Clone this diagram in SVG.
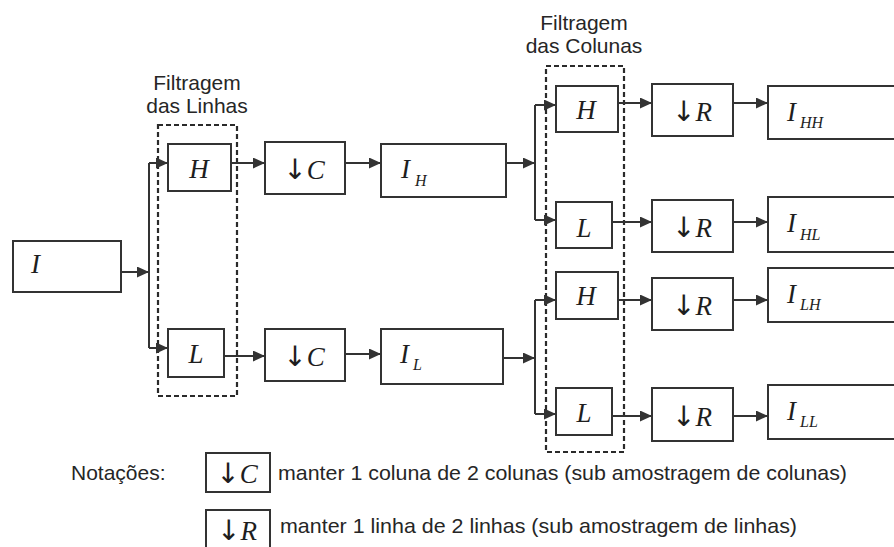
<svg xmlns="http://www.w3.org/2000/svg" width="894" height="547" viewBox="0 0 894 547">
  <style>
    .box { fill: #ffffff; stroke: #333333; stroke-width: 2; }
    .group { fill: none; stroke: #2a2a2a; stroke-width: 2.2; stroke-dasharray: 5 3; }
    .wire { fill: none; stroke: #333333; stroke-width: 2; }
    .arrow { fill: none; stroke: #333333; stroke-width: 2; marker-end: url(#head); }
    .m { font-family: "Liberation Serif", "Times New Roman", serif; font-style: italic; font-size: 27px; fill: #1e1e1e; }
    .op { font-family: "Liberation Serif", "Times New Roman", serif; font-size: 27px; fill: #1e1e1e; text-anchor: middle; }
    .op .v { font-style: italic; }
    .op .dn { font-family: "DejaVu Sans", sans-serif; font-size: 28px; }
    .sub { font-size: 16px; }
    .lbl { font-family: "Liberation Sans", Arial, sans-serif; font-size: 21px; fill: #262626; text-anchor: middle; }
    .note { font-family: "Liberation Sans", Arial, sans-serif; font-size: 21px; fill: #262626; }
  </style>
  <defs>
    <marker id="head" viewBox="0 0 12 11" refX="12" refY="5.5" markerWidth="12" markerHeight="11" markerUnits="userSpaceOnUse" orient="auto">
      <path d="M0,0 L12,5.5 L0,11 Z" fill="#333333"/>
    </marker>
  </defs>

  <rect width="894" height="547" fill="#ffffff"/>

  <!-- filter groups (dashed outlines with captions) -->
  <g id="row-filtering">
    <rect class="group" x="158" y="125" width="79" height="271"/>
    <text class="lbl" x="197" y="90">Filtragem</text>
    <text class="lbl" x="197" y="113">das Linhas</text>
  </g>
  <g id="column-filtering">
    <rect class="group" x="546" y="66" width="78" height="386"/>
    <text class="lbl" x="584" y="30">Filtragem</text>
    <text class="lbl" x="584" y="53">das Colunas</text>
  </g>

  <!-- connectors -->
  <g id="connectors">
    <path class="arrow" d="M121,272 H149"/>
    <path class="wire" d="M149,163 V348"/>
    <path class="arrow" d="M149,163 H168"/>
    <path class="arrow" d="M149,348 H168"/>

    <path class="arrow" d="M231,163 H265"/>
    <path class="arrow" d="M224,356 H265"/>
    <path class="arrow" d="M345,163 H381"/>
    <path class="arrow" d="M345,354 H381"/>

    <path class="arrow" d="M506,163 H535"/>
    <path class="wire" d="M535,105 V220"/>
    <path class="arrow" d="M535,105 H556"/>
    <path class="arrow" d="M535,220 H556"/>

    <path class="arrow" d="M503,358 H535"/>
    <path class="wire" d="M535,300 V414"/>
    <path class="arrow" d="M535,300 H556"/>
    <path class="arrow" d="M535,414 H556"/>

    <path class="arrow" d="M618,103 H652"/>
    <path class="arrow" d="M612,222 H652"/>
    <path class="arrow" d="M618,300 H652"/>
    <path class="arrow" d="M612,416 H652"/>

    <path class="arrow" d="M733,103 H768"/>
    <path class="arrow" d="M733,222 H768"/>
    <path class="arrow" d="M733,300 H768"/>
    <path class="arrow" d="M733,416 H768"/>
  </g>

  <!-- input image -->
  <g id="node-I">
    <rect class="box" x="13" y="241" width="108" height="51"/>
    <text class="m" x="31" y="273">I</text>
  </g>

  <!-- row filters -->
  <g id="node-row-H">
    <rect class="box" x="168" y="144" width="63" height="47"/>
    <text class="m" x="199" y="178" text-anchor="middle">H</text>
  </g>
  <g id="node-row-L">
    <rect class="box" x="168" y="329" width="56" height="48"/>
    <text class="m" x="196" y="363" text-anchor="middle">L</text>
  </g>

  <!-- column downsampling -->
  <g id="node-down-C-1">
    <rect class="box" x="265" y="142" width="80" height="52"/>
    <text class="op" x="304" y="179"><tspan class="dn">↓</tspan><tspan class="v">C</tspan></text>
  </g>
  <g id="node-down-C-2">
    <rect class="box" x="265" y="329" width="80" height="52"/>
    <text class="op" x="304" y="366"><tspan class="dn">↓</tspan><tspan class="v">C</tspan></text>
  </g>

  <!-- intermediate images -->
  <g id="node-IH">
    <rect class="box" x="381" y="144" width="125" height="53"/>
    <text class="m" x="401" y="178">I<tspan class="sub" x="415" y="186">H</tspan></text>
  </g>
  <g id="node-IL">
    <rect class="box" x="381" y="329" width="122" height="55"/>
    <text class="m" x="400" y="363">I<tspan class="sub" x="413" y="370">L</tspan></text>
  </g>

  <!-- column filters -->
  <g id="node-col-H-1">
    <rect class="box" x="556" y="86" width="62" height="46"/>
    <text class="m" x="586" y="119" text-anchor="middle">H</text>
  </g>
  <g id="node-col-L-1">
    <rect class="box" x="556" y="202" width="56" height="46"/>
    <text class="m" x="584" y="237" text-anchor="middle">L</text>
  </g>
  <g id="node-col-H-2">
    <rect class="box" x="556" y="272" width="62" height="47"/>
    <text class="m" x="586" y="305" text-anchor="middle">H</text>
  </g>
  <g id="node-col-L-2">
    <rect class="box" x="556" y="388" width="56" height="47"/>
    <text class="m" x="584" y="422" text-anchor="middle">L</text>
  </g>

  <!-- row downsampling -->
  <g id="node-down-R-1">
    <rect class="box" x="652" y="84" width="81" height="52"/>
    <text class="op" x="692" y="121"><tspan class="dn">↓</tspan><tspan class="v">R</tspan></text>
  </g>
  <g id="node-down-R-2">
    <rect class="box" x="652" y="200" width="81" height="52"/>
    <text class="op" x="692" y="237"><tspan class="dn">↓</tspan><tspan class="v">R</tspan></text>
  </g>
  <g id="node-down-R-3">
    <rect class="box" x="652" y="278" width="81" height="52"/>
    <text class="op" x="692" y="315"><tspan class="dn">↓</tspan><tspan class="v">R</tspan></text>
  </g>
  <g id="node-down-R-4">
    <rect class="box" x="652" y="388" width="81" height="53"/>
    <text class="op" x="692" y="426"><tspan class="dn">↓</tspan><tspan class="v">R</tspan></text>
  </g>

  <!-- sub-band outputs -->
  <g id="node-IHH">
    <rect class="box" x="768" y="86" width="140" height="53"/>
    <text class="m" x="787" y="121">I<tspan class="sub" x="800" y="128">HH</tspan></text>
  </g>
  <g id="node-IHL">
    <rect class="box" x="768" y="197" width="140" height="55"/>
    <text class="m" x="787" y="232">I<tspan class="sub" x="800" y="240">HL</tspan></text>
  </g>
  <g id="node-ILH">
    <rect class="box" x="768" y="268" width="140" height="54"/>
    <text class="m" x="787" y="303">I<tspan class="sub" x="800" y="310">LH</tspan></text>
  </g>
  <g id="node-ILL">
    <rect class="box" x="768" y="385" width="140" height="54"/>
    <text class="m" x="787" y="420">I<tspan class="sub" x="800" y="427">LL</tspan></text>
  </g>

  <!-- notation legend -->
  <g id="legend">
    <text class="note" x="71" y="480">Notações:</text>
    <rect class="box" x="206" y="453" width="64" height="39"/>
    <text class="op" x="237" y="483"><tspan class="dn">↓</tspan><tspan class="v">C</tspan></text>
    <text class="note" x="278" y="480" textLength="569" lengthAdjust="spacingAndGlyphs">manter 1 coluna de 2 colunas (sub amostragem de colunas)</text>
    <rect class="box" x="206" y="510" width="64" height="45"/>
    <text class="op" x="237" y="540"><tspan class="dn">↓</tspan><tspan class="v">R</tspan></text>
    <text class="note" x="280" y="533" textLength="517" lengthAdjust="spacingAndGlyphs">manter 1 linha de 2 linhas (sub amostragem de linhas)</text>
  </g>
</svg>
